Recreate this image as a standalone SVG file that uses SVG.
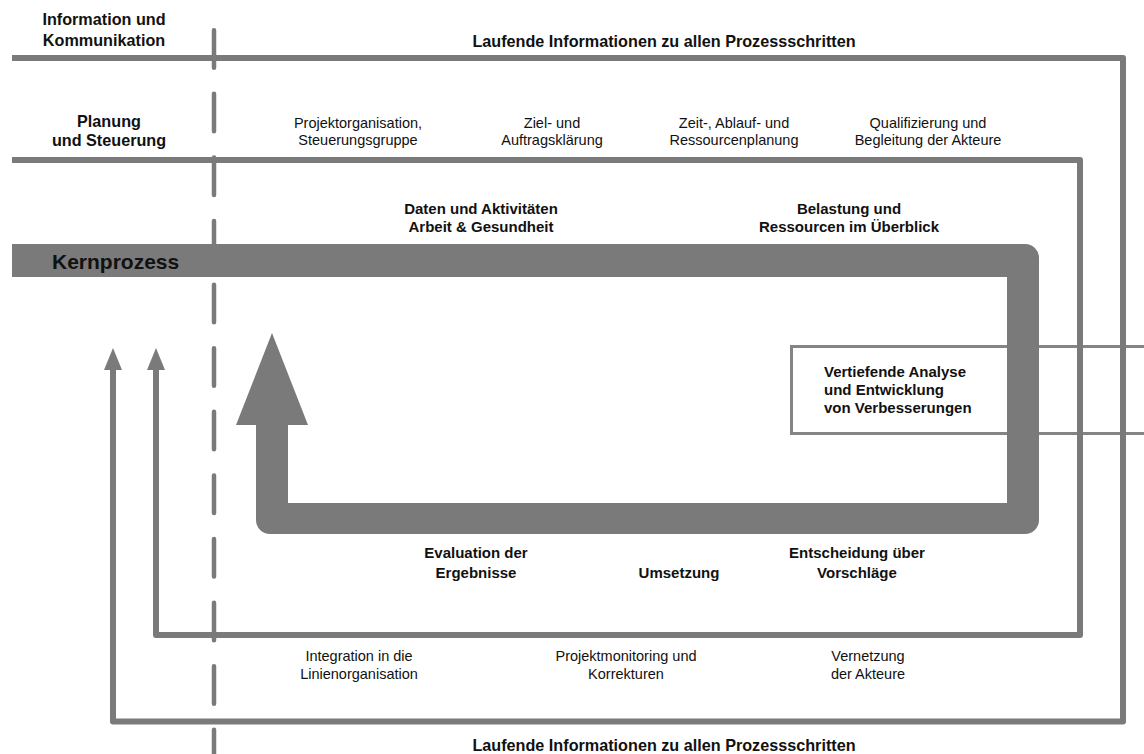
<svg xmlns="http://www.w3.org/2000/svg" width="1144" height="754" viewBox="0 0 1144 754">
<style>
text{font-family:"Liberation Sans",Arial,Helvetica,sans-serif;fill:#111}
.b{font-weight:bold;font-size:15px}
.h{font-weight:bold;font-size:16.2px}
.r{font-size:14.5px}
.c{text-anchor:middle}
.ln{fill:none;stroke:#7a7a7a;stroke-width:6;stroke-linejoin:round}
.ah{fill:#7a7a7a}
</style>
<rect width="1144" height="754" fill="#fff"/>
<g id="connectors">
<path id="box-lines" d="M1144,346.5 H791.5 V433.5 H1144" fill="#fff" stroke="#858585" stroke-width="3"/>
<path id="info-loop" class="ln" d="M12,58 H1123 V721.5 H113 V368"/>
<polygon class="ah" points="104,370 113,348 122,370"/>
<path id="plan-loop" class="ln" d="M12,160 H1080 V635 H156 V368"/>
<polygon class="ah" points="147,370 156,348 165,370"/>
<line id="divider" x1="214" y1="30.25" x2="214" y2="754" stroke="#7a7a7a" stroke-width="4.5" stroke-linecap="round" stroke-dasharray="37.5 26.1"/>
</g>
<g id="kernprozess">
<path d="M12,244 H1025 A14,14 0 0 1 1039,258 V520 A14,14 0 0 1 1025,534 H270 A14,14 0 0 1 256,520 V425 H236 L272,333 L308,425 H288 V503 H1007 V277 H12 Z" fill="#7a7a7a"/>
<text x="52" y="269" style="font-weight:bold;font-size:21px">Kernprozess</text>
</g>
<g id="info-label">
<text class="h c" x="104" y="25">Information und</text>
<text class="h c" x="104" y="46">Kommunikation</text>
</g>
<g id="info-top"><text class="h c" x="664" y="47">Laufende Informationen zu allen Prozessschritten</text></g>
<g id="info-bottom"><text class="h c" x="664" y="751">Laufende Informationen zu allen Prozessschritten</text></g>
<g id="plan-label">
<text class="h c" x="109" y="127">Planung</text>
<text class="h c" x="109" y="146">und Steuerung</text>
</g>
<g id="projektorganisation">
<text class="r c" x="358" y="128">Projektorganisation,</text>
<text class="r c" x="358" y="145">Steuerungsgruppe</text>
</g>
<g id="ziel">
<text class="r c" x="552" y="128">Ziel- und</text>
<text class="r c" x="552" y="145">Auftragsklärung</text>
</g>
<g id="zeit">
<text class="r c" x="734" y="128">Zeit-, Ablauf- und</text>
<text class="r c" x="734" y="145">Ressourcenplanung</text>
</g>
<g id="qualifizierung">
<text class="r c" x="928" y="128">Qualifizierung und</text>
<text class="r c" x="928" y="145">Begleitung der Akteure</text>
</g>
<g id="daten">
<text class="b c" x="481" y="214">Daten und Aktivitäten</text>
<text class="b c" x="481" y="232">Arbeit &amp; Gesundheit</text>
</g>
<g id="belastung">
<text class="b c" x="849" y="214">Belastung und</text>
<text class="b c" x="849" y="232">Ressourcen im Überblick</text>
</g>
<g id="vertiefende">
<text class="b" x="824" y="377">Vertiefende Analyse</text>
<text class="b" x="824" y="395">und Entwicklung</text>
<text class="b" x="824" y="413">von Verbesserungen</text>
</g>
<g id="evaluation">
<text class="b c" x="476" y="558">Evaluation der</text>
<text class="b c" x="476" y="578">Ergebnisse</text>
</g>
<g id="umsetzung"><text class="b c" x="679" y="578">Umsetzung</text></g>
<g id="entscheidung">
<text class="b c" x="857" y="558">Entscheidung über</text>
<text class="b c" x="857" y="578">Vorschläge</text>
</g>
<g id="integration">
<text class="r c" x="359" y="661">Integration in die</text>
<text class="r c" x="359" y="679">Linienorganisation</text>
</g>
<g id="monitoring">
<text class="r c" x="626" y="661">Projektmonitoring und</text>
<text class="r c" x="626" y="679">Korrekturen</text>
</g>
<g id="vernetzung">
<text class="r c" x="868" y="661">Vernetzung</text>
<text class="r c" x="868" y="679">der Akteure</text>
</g>
</svg>
